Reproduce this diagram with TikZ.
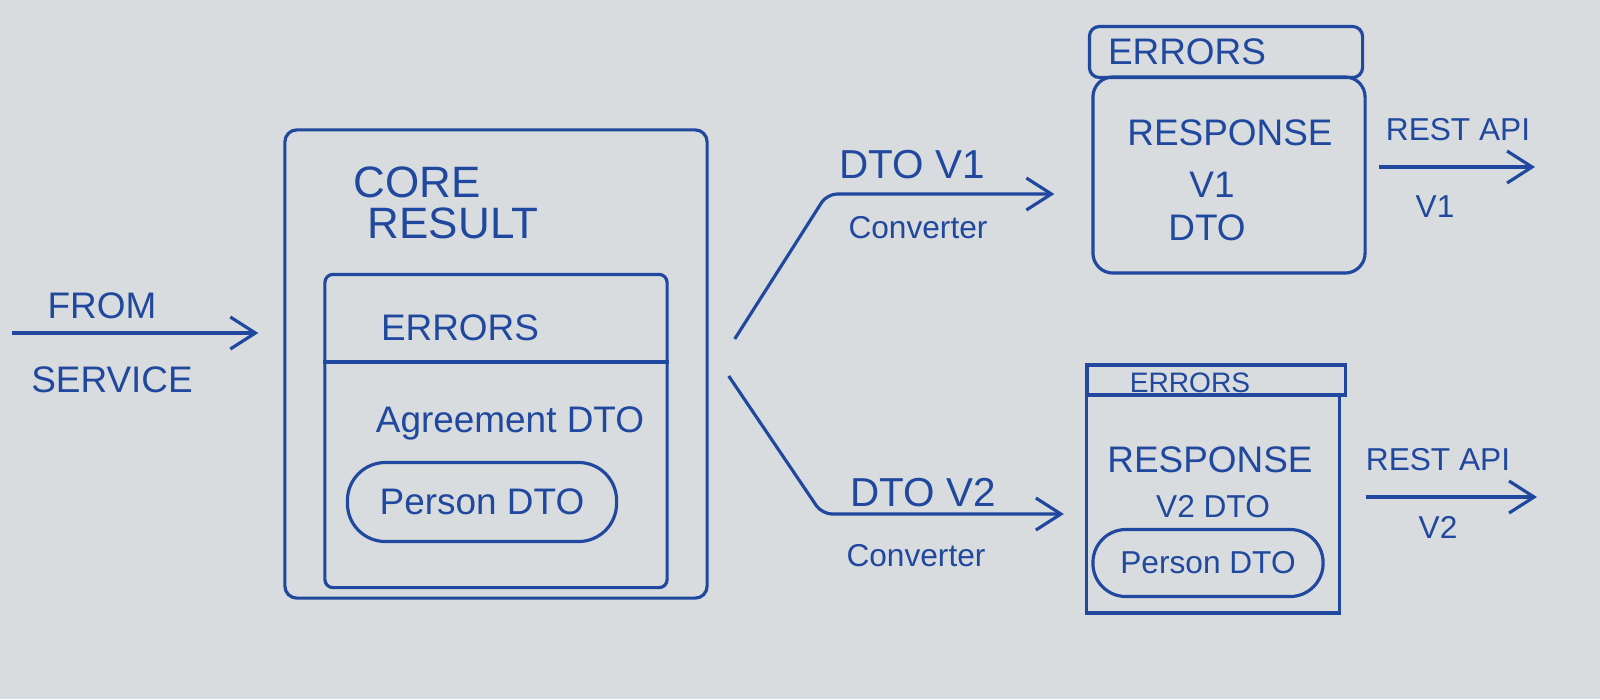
\documentclass[tikz,border=0pt]{standalone}
\usepackage{fontspec}
\setmainfont{Liberation Sans}
\usetikzlibrary{arrows.meta}
\definecolor{pen}{RGB}{32,72,158}
\definecolor{paper}{RGB}{216,220,222}
\tikzset{
  ink/.style={draw=pen, line width=0.9pt},
  arr/.style={ink, -{Straight Barb[length=0.25cm,width=0.32cm]}},
  txt/.style={text=pen, inner sep=0pt, font=\fontsize{10.5}{12}\selectfont},
  big/.style={txt, font=\fontsize{12.5}{14}\selectfont},
  mid/.style={txt, font=\fontsize{11.5}{13}\selectfont},
  sml/.style={txt, font=\fontsize{9}{11}\selectfont},
  tny/.style={txt, font=\fontsize{8}{10}\selectfont},
}
\begin{document}
\begin{tikzpicture}[x=0.01cm, y=-0.01cm]
\fill[paper] (0,0) rectangle (1600,699);
\node[ink, rounded corners=0.12cm, minimum width=4.22cm, minimum height=4.68cm] (core) at (496,364) {};
\node[ink, rounded corners=0.08cm, minimum width=3.42cm, minimum height=3.13cm] (inner) at (496,431) {};
\coordinate (divy) at (0,362);
\draw[ink] (inner.west |- divy) -- (inner.east |- divy);
\node[big] (corelbl) at (417,182) {CORE};
\node[big] (resultlbl) at (453,223) {RESULT};
\node[txt] (err0) at (460,328) {ERRORS};
\node[txt] (agr) at (510,423) {Agreement DTO};
\node[txt, ink, rounded corners=0.38cm, minimum width=2.69cm, minimum height=0.79cm] (person1) at (482,502) {Person DTO};
\coordinate (src) at (12,333);
\draw[arr, shorten >=0.25cm] (src) -- (src -| core.west);
\node[txt] (from) at (102,306) {FROM};
\node[txt] (svc) at (112,380) {SERVICE};
\node[ink, rounded corners=0.1cm, minimum width=2.73cm, minimum height=0.51cm] (hdr1) at (1226,52) {};
\node[ink, rounded corners=0.2cm, minimum width=2.72cm, minimum height=1.96cm] (resp1) at (1229,175) {};
\node[txt] (err1) at (1187,52) {ERRORS};
\node[txt] (rsp1) at (1230,133) {RESPONSE};
\node[txt] (ver1) at (1212,185) {V1};
\node[txt] (dto1) at (1207,228) {DTO};
\node[ink, minimum width=2.58cm, minimum height=0.30cm] (hdr2) at (1216,380) {};
\node[ink, minimum width=2.53cm, minimum height=2.18cm] (resp2) at (1213,504) {};
\node[tny] (err2) at (1190,383) {ERRORS};
\node[txt] (rsp2) at (1210,460) {RESPONSE};
\node[sml] (dto2) at (1213,507) {V2 DTO};
\node[sml, ink, rounded corners=0.33cm, minimum width=2.30cm, minimum height=0.67cm] (person2) at (1208,563) {Person DTO};
\coordinate (k1) at (827,194);
\coordinate (k2) at (822,514);
\draw[arr, rounded corners=0.1cm, shorten >=0.37cm] ([shift={(0.26cm,0.25cm)}]core.east) -- (k1) -- (k1 -| resp1.west);
\draw[arr, rounded corners=0.1cm, shorten >=0.21cm] ([shift={(0.2cm,-0.12cm)}]core.east) -- (k2) -- (k2 -| resp2.west);
\node[mid] (conv1a) at (912,165) {DTO V1};
\node[sml] (conv1b) at (918,228) {Converter};
\node[mid] (conv2a) at (923,493) {DTO V2};
\node[sml] (conv2b) at (916,556) {Converter};
\coordinate (api1) at (1535,167);
\draw[arr, shorten <=0.12cm] (resp1.east |- api1) -- (api1);
\node[sml] (rest1) at (1458,130) {REST API};
\node[sml] (rv1) at (1435,207) {V1};
\coordinate (api2) at (1537,497);
\draw[arr, shorten <=0.25cm] (resp2.east |- api2) -- (api2);
\node[sml] (rest2) at (1438,460) {REST API};
\node[sml] (rv2) at (1438,527) {V2};
\end{tikzpicture}
\end{document}
